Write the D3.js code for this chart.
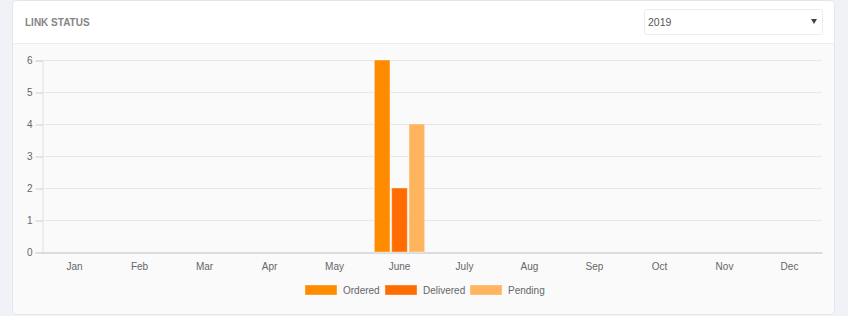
<!DOCTYPE html>
<html>
<head>
<meta charset="utf-8">
<script src="https://cdn.jsdelivr.net/npm/d3@7"></script>
<style>
  body { margin: 0; background: #f1f2f7; font-family: Arial, "Liberation Sans", sans-serif; }
  svg { display: block; }
</style>
</head>
<body>
<script>
const months = ["Jan","Feb","Mar","Apr","May","June","July","Aug","Sep","Oct","Nov","Dec"]
const seriesNames = ["Ordered", "Delivered", "Pending"]
const ordered   = [0,0,0,0,0,6,0,0,0,0,0,0]
const delivered = [0,0,0,0,0,2,0,0,0,0,0,0]
const pending   = [0,0,0,0,0,4,0,0,0,0,0,0]
const yTicks = [0,1,2,3,4,5,6]
const colors = ["#ff8c00", "#ff6d00", "#ffb45e"]

const w = 848
const h = 316
const svg = d3.select("body").append("svg").attr("width", w).attr("height", h)

// card
svg.append("rect")
  .attr("x", 12.5).attr("y", 0.5).attr("width", 822).attr("height", 314)
  .attr("rx", 4).attr("fill", "#fafafa").attr("stroke", "#e3e6ee")
svg.append("path")
  .attr("d", "M13,43 L13,5 Q13,1 17,1 L830,1 Q834,1 834,5 L834,43 Z")
  .attr("fill", "#ffffff")
svg.append("line")
  .attr("x1", 13).attr("x2", 834).attr("y1", 43.5).attr("y2", 43.5)
  .attr("stroke", "#eeeeee")

svg.append("text")
  .attr("x", 25).attr("y", 25.5)
  .attr("font-size", 10).attr("font-weight", "bold").attr("fill", "#858585")
  .text("LINK STATUS")

// year select
svg.append("rect")
  .attr("x", 644.5).attr("y", 9.5).attr("width", 178).attr("height", 25)
  .attr("rx", 2).attr("fill", "#fff").attr("stroke", "#ececec")
svg.append("text")
  .attr("x", 648).attr("y", 25.5).attr("font-size", 10.5).attr("fill", "#555")
  .text("2019")
svg.append("path").attr("d", "M811,19 L817,19 L814,24 Z").attr("fill", "#444")

// chart
const plotLeft = 42, plotRight = 822, plotTop = 60, plotBottom = 252
const chartFont = "Arial, 'Liberation Sans', sans-serif"

const x = d3.scaleBand().domain(months).range([plotLeft, plotRight])
const x1 = d3.scaleBand().domain(seriesNames).range([0, x.bandwidth() * 0.8])
const y = d3.scaleLinear().domain([0, 6]).range([plotBottom, plotTop])

// grid
svg.append("g").selectAll("line")
  .data(yTicks.filter(d => d > 0))
  .join("line")
  .attr("x1", plotLeft).attr("x2", plotRight)
  .attr("y1", d => Math.round(y(d)) + 0.5).attr("y2", d => Math.round(y(d)) + 0.5)
  .attr("stroke", "#e8e8e8")

const yAxis = svg.append("g")
  .attr("transform", "translate(" + (plotLeft + 0.5) + ",0.5)")
  .call(d3.axisLeft(y).tickValues(yTicks).tickSize(7).tickPadding(3).tickFormat(d3.format("d")))
yAxis.select(".domain").attr("stroke", "#e0e0e0")
yAxis.selectAll(".tick line").attr("stroke", "#d0d0d0")
yAxis.selectAll("text").attr("fill", "#666").attr("font-size", 10).attr("font-family", chartFont)

const xAxis = svg.append("g")
  .attr("transform", "translate(0," + (plotBottom + 0.5) + ")")
  .call(d3.axisBottom(x).tickSize(0).tickPadding(10))
xAxis.select(".domain").attr("stroke", "#bdbdbd")
xAxis.selectAll("text").attr("fill", "#666").attr("font-size", 10).attr("font-family", chartFont)

// bars
const data = months.map((m, i) => ({ month: m, values: [ordered[i], delivered[i], pending[i]] }))
const groups = svg.append("g").selectAll("g")
  .data(data)
  .join("g")
  .attr("transform", d => "translate(" + (x(d.month) + x.bandwidth() * 0.1) + ",0)")

groups.selectAll("rect")
  .data(d => d.values.map((v, j) => ({ name: seriesNames[j], value: v, j: j })))
  .join("rect")
  .filter(d => d.value > 0)
  .attr("x", d => x1(d.name) + x1.bandwidth() * 0.05)
  .attr("width", x1.bandwidth() * 0.9)
  .attr("y", d => y(d.value))
  .attr("height", d => plotBottom - y(d.value))
  .attr("fill", d => colors[d.j])
  .attr("stroke", "rgba(255,255,255,0.35)")
  .attr("stroke-width", 1)

// legend
const legendX = [305, 385, 470]
const legend = svg.append("g").selectAll("g")
  .data(seriesNames)
  .join("g")
  .attr("transform", (d, i) => "translate(" + legendX[i] + ",285)")
legend.append("rect")
  .attr("width", 32).attr("height", 10)
  .attr("fill", (d, i) => colors[i])
  .attr("stroke", "rgba(255,255,255,0.35)")
legend.append("text")
  .attr("x", 38).attr("y", 9)
  .attr("font-size", 10).attr("font-family", chartFont).attr("fill", "#666")
  .text(d => d)
</script>
</body>
</html>
